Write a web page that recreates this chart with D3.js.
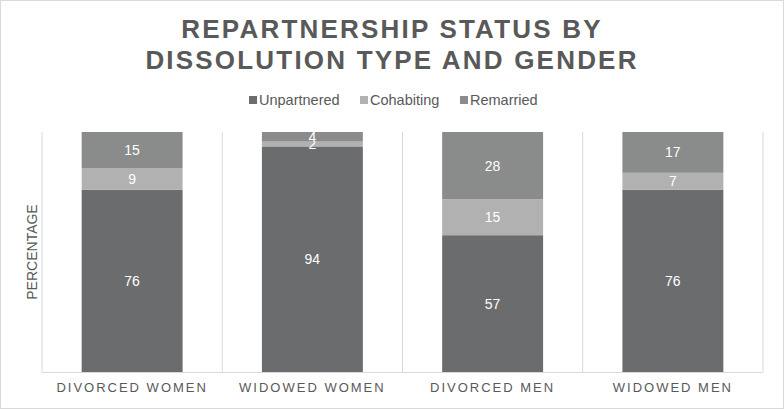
<!DOCTYPE html>
<html>
<head>
<meta charset="utf-8">
<script src="https://cdn.jsdelivr.net/npm/d3@7"></script>
<style>
  body { margin: 0; background: #fff; }
  text { font-family: "Liberation Sans", Arial, sans-serif; fill: #595959; }
</style>
</head>
<body>
<svg width="784" height="409"></svg>
<script>
const categories = ['DIVORCED WOMEN', 'WIDOWED WOMEN', 'DIVORCED MEN', 'WIDOWED MEN'];
const seriesNames = ['Unpartnered', 'Cohabiting', 'Remarried'];
const unpartnered = [76, 94, 57, 76];
const cohabiting = [9, 2, 15, 7];
const remarried = [15, 4, 28, 17];
const colors = ['#6b6c6e', '#b0b1b0', '#8a8b8b'];

const svg = d3.select('svg');
const width = +svg.attr('width');
const height = +svg.attr('height');

// outer frame
svg.append('rect')
  .attr('x', 0.5).attr('y', 0.5)
  .attr('width', width - 1).attr('height', height - 1)
  .attr('fill', '#fff').attr('stroke', '#d9d9d9');

// title
const title = svg.append('text')
  .attr('text-anchor', 'middle')
  .attr('font-size', 26).attr('font-weight', 'bold')
  .attr('letter-spacing', 2.2);
title.append('tspan').attr('x', width / 2).attr('y', 38).text('REPARTNERSHIP STATUS BY');
title.append('tspan').attr('x', width / 2).attr('y', 69).text('DISSOLUTION TYPE AND GENDER');

const margin = {left: 42, right: 21, top: 132, bottom: 37};

const table = categories.map((c, i) => ({
  cat: c, Unpartnered: unpartnered[i], Cohabiting: cohabiting[i], Remarried: remarried[i]
}));
const stacked = d3.stack().keys(seriesNames)(table);

const x = d3.scaleBand()
  .domain(categories)
  .range([margin.left, width - margin.right])
  .paddingInner(0.44).paddingOuter(0.22);
const y = d3.scaleLinear().domain([0, 100]).range([height - margin.bottom, margin.top]);

// category gridlines
const step = x.step();
const bounds = d3.range(categories.length + 1).map(i => margin.left + i * step);
svg.append('g').selectAll('line').data(bounds).join('line')
  .attr('x1', d => d).attr('x2', d => d)
  .attr('y1', y(100)).attr('y2', y(0))
  .attr('stroke', '#d9d9d9');

// bars
const layers = svg.append('g').selectAll('g').data(stacked).join('g')
  .attr('fill', (d, i) => colors[i]);
layers.selectAll('rect').data(d => d).join('rect')
  .attr('x', d => x(d.data.cat))
  .attr('width', x.bandwidth())
  .attr('y', d => y(d[1]))
  .attr('height', d => y(d[0]) - y(d[1]));

// data labels
layers.selectAll('text').data(d => d).join('text')
  .attr('x', d => x(d.data.cat) + x.bandwidth() / 2)
  .attr('y', d => (y(d[0]) + y(d[1])) / 2)
  .attr('dy', '0.35em')
  .attr('text-anchor', 'middle')
  .attr('font-size', 14)
  .style('fill', '#fff')
  .text(d => d[1] - d[0]);

// x axis
const xAxis = svg.append('g')
  .attr('transform', `translate(0,${y(0)})`)
  .call(d3.axisBottom(x).tickSize(0).tickPadding(11));
xAxis.select('.domain').attr('stroke', '#d9d9d9').attr('d', `M${margin.left},0.5H${width - margin.right}`);
xAxis.selectAll('text')
  .attr('font-size', 13)
  .attr('font-family', '"Liberation Sans", Arial, sans-serif')
  .attr('letter-spacing', 2)
  .style('fill', '#595959');

// y axis label
svg.append('text')
  .attr('transform', `translate(37,${(y(0) + y(100)) / 2}) rotate(-90)`)
  .attr('text-anchor', 'middle')
  .attr('font-size', 14)
  .text('PERCENTAGE');

// legend
const legendX = [249, 360, 460];
const legend = svg.append('g').selectAll('g').data(seriesNames).join('g')
  .attr('transform', (d, i) => `translate(${legendX[i]},100)`);
legend.append('rect')
  .attr('x', 0).attr('y', -4).attr('width', 8).attr('height', 8)
  .attr('fill', (d, i) => colors[i]);
legend.append('text')
  .attr('x', 10).attr('dy', '0.35em')
  .attr('font-size', 14.5)
  .text(d => d);
</script>
</body>
</html>
